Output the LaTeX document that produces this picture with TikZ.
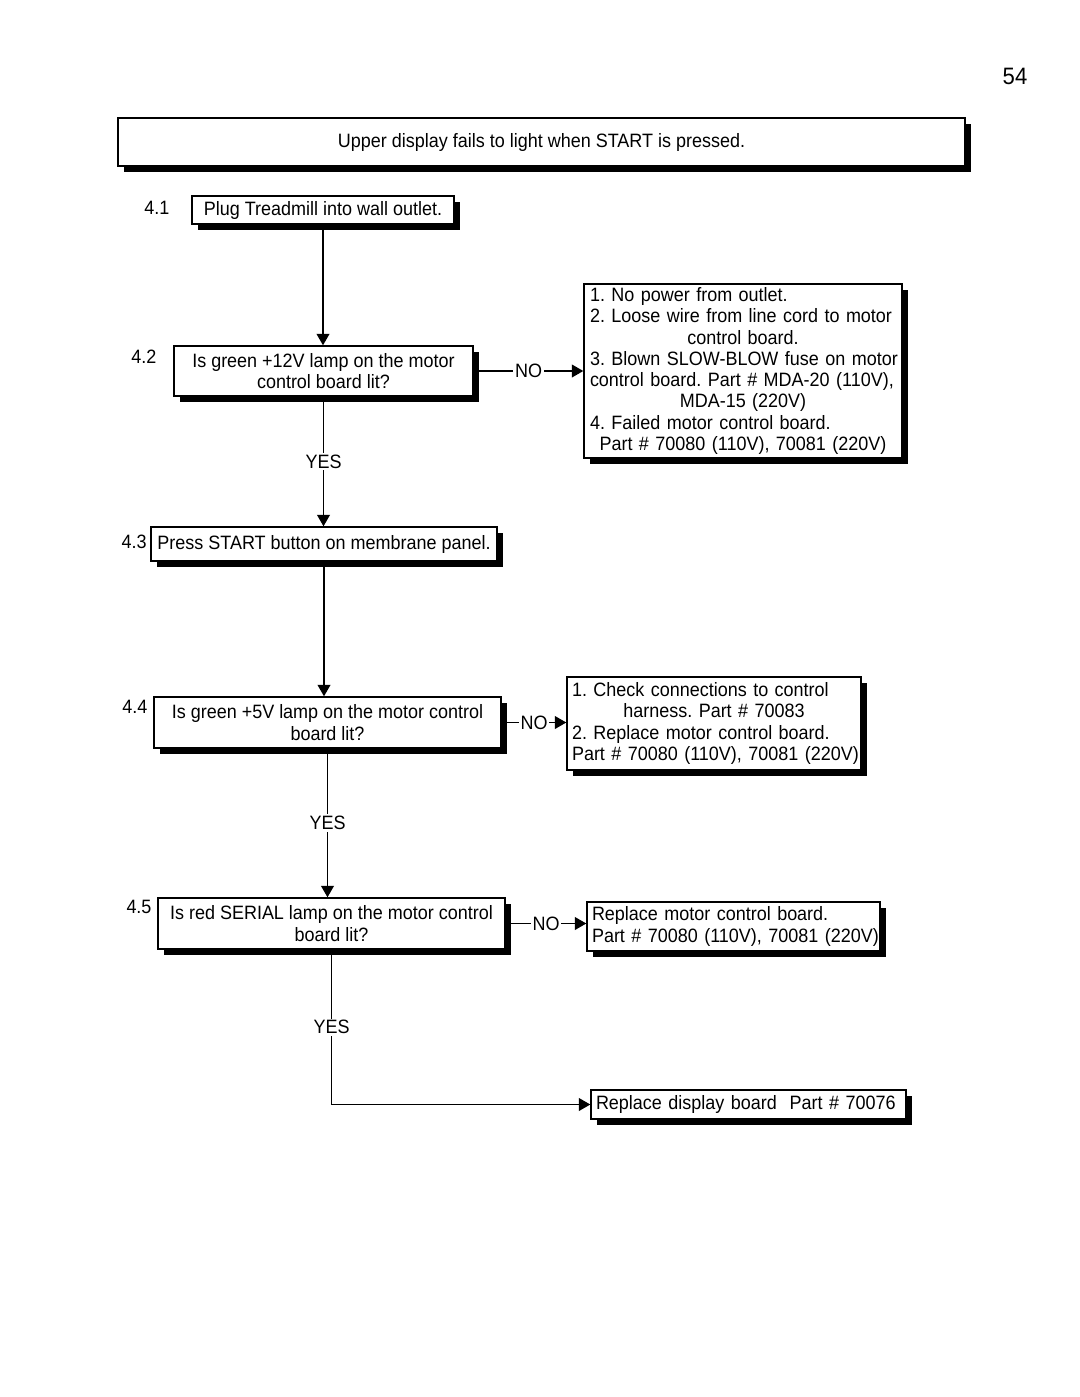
\documentclass[tikz,border=0pt]{standalone}
\usepackage{fontspec}
\setmainfont{Liberation Sans}[FakeStretch=0.93]
\usetikzlibrary{arrows, shadows}
\frenchspacing
\newlength\pxu
\setlength\pxu{0.5688pt}
\newcommand\lline[1]{\makebox[\linewidth][l]{#1}}
\newcommand\mline[1]{\makebox[\linewidth][c]{#1}}

\begin{document}
\begin{tikzpicture}[x=0.5688pt, y=-0.5688pt,
	txt/.style={font=\fontsize{11}{12.1}\selectfont},
	box/.style={txt, draw, line width=0.85pt, fill=white, inner sep=0pt,
		drop shadow={shadow xshift=3.4pt, shadow yshift=-3.4pt, opacity=1, fill=black}},
	link/.style={line width=0.75pt, -{triangle 60[scale=1.5]}},
	lbl/.style={txt, fill=white, inner sep=1pt}]
	\useasboundingbox (0,0) rectangle (1080,1397);
	\node[font=\fontsize{13.5}{14}\selectfont] (page) at (1015,76) {54};
	% heading
	\node[box, minimum width=847\pxu, minimum height=48\pxu] (top) at (541.5,142)
		{Upper display fails to light when START is pressed.};
	% steps
	\node[txt] (n1) at (157,208) {4.1};
	\node[box, minimum width=262\pxu, minimum height=28\pxu] (s1) at (323,210)
		{Plug Treadmill into wall outlet.};
	\node[txt] (n2) at (144,357) {4.2};
	\node[box, minimum width=299\pxu, minimum height=50\pxu, align=center] (s2) at (323.5,371)
		{Is green +12V lamp on the motor\\control board lit?};
	\node[txt] (n3) at (134,542) {4.3};
	\node[box, minimum width=346\pxu, minimum height=34\pxu] (s3) at (324,544)
		{Press START button on membrane panel.};
	\node[txt] (n4) at (135,707) {4.4};
	\node[box, minimum width=347\pxu, minimum height=51\pxu, align=center] (s4) at (327.5,722.5)
		{Is green +5V lamp on the motor control\\board lit?};
	\node[txt] (n5) at (139,907) {4.5};
	\node[box, minimum width=347\pxu, minimum height=51\pxu, align=center] (s5) at (331.5,923.5)
		{Is red SERIAL lamp on the motor control\\board lit?};
	% fixes
	\node[box, minimum width=318\pxu, minimum height=174\pxu, text width=306\pxu] (f2) at (743,371)
		{\lline{1. No power from outlet.}\\
		 \lline{2. Loose wire from line cord to motor}\\
		 \mline{control board.}\\
		 \lline{3. Blown SLOW-BLOW fuse on motor}\\
		 \lline{control board. Part \# MDA-20 (110V),}\\
		 \mline{MDA-15 (220V)}\\
		 \lline{4. Failed motor control board.}\\
		 \mline{Part \# 70080 (110V), 70081 (220V)}};
	\node[box, minimum width=294\pxu, minimum height=93\pxu, text width=284\pxu] (f4) at (714,723.5)
		{\lline{1. Check connections to control}\\
		 \mline{harness. Part \# 70083}\\
		 \lline{2. Replace motor control board.}\\
		 \lline{Part \# 70080 (110V), 70081 (220V)}};
	\node[box, minimum width=293\pxu, minimum height=49\pxu, text width=283\pxu] (f5) at (733.5,926.5)
		{\lline{Replace motor control board.}\\
		 \lline{Part \# 70080 (110V), 70081 (220V)}};
	\node[box, minimum width=315\pxu, minimum height=29\pxu, text width=305\pxu] (f6) at (748.5,1104.5)
		{\lline{Replace display board\ \ Part \# 70076}};
	% connectors
	\draw[link] (s1.south) -- (s1.south |- s2.north);
	\draw[link] (s2.east) -- node[lbl] {NO} (f2.west |- s2.east);
	\draw[link] (s2.south) -- node[lbl] {YES} (s2.south |- s3.north);
	\draw[link] (s3.south) -- (s3.south |- s4.north);
	\draw[link] (s4.east) -- node[lbl] {NO} (f4.west |- s4.east);
	\draw[link] (s4.south) -- node[lbl] {YES} (s4.south |- s5.north);
	\draw[link] (s5.east) -- node[lbl] {NO} (f5.west |- s5.east);
	\draw[link] (s5.south) |- node[lbl, pos=0.25] {YES} (f6.west);
\end{tikzpicture}
\end{document}
